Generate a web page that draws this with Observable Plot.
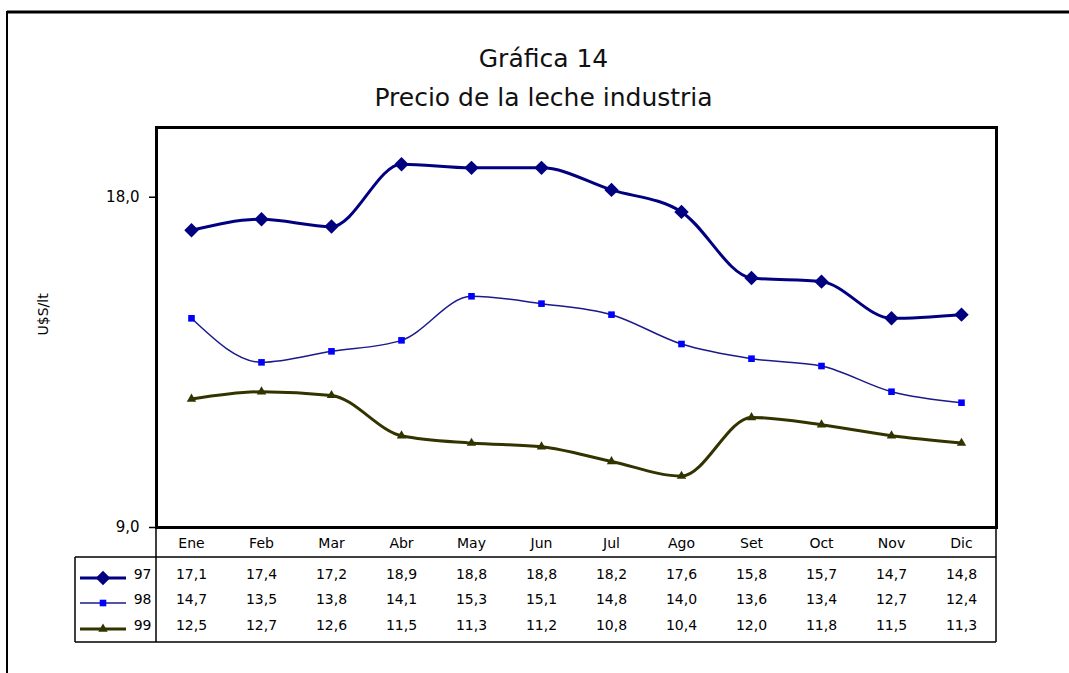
<!DOCTYPE html>
<html>
<head>
<meta charset="utf-8">
<script src="https://cdn.jsdelivr.net/npm/d3@7"></script>
<script src="https://cdn.jsdelivr.net/npm/@observablehq/plot@0.6"></script>
<style>
  html, body { margin: 0; padding: 0; background: #fff; }
  #chart { position: relative; width: 1069px; height: 673px; overflow: hidden; }
</style>
</head>
<body>
<div id="chart"></div>
<script>
// ---- data ----
const months = ["Ene","Feb","Mar","Abr","May","Jun","Jul","Ago","Set","Oct","Nov","Dic"];
const seriesNames = ["97","98","99"];
const s97 = [17.1,17.4,17.2,18.9,18.8,18.8,18.2,17.6,15.8,15.7,14.7,14.8];
const s98 = [14.7,13.5,13.8,14.1,15.3,15.1,14.8,14.0,13.6,13.4,12.7,12.4];
const s99 = [12.5,12.7,12.6,11.5,11.3,11.2,10.8,10.4,12.0,11.8,11.5,11.3];
const yTicks = [9, 18];
const titleText = "Gráfica 14";
const subtitleText = "Precio de la leche industria";
const yLabel = "U$S/lt";

const seriesValues = [s97, s98, s99];
const rows = seriesNames.flatMap((s, i) => months.map((m, j) => ({series: s, month: m, value: seriesValues[i][j]})));
const bySeries = s => rows.filter(d => d.series === s);

const styles = {
  "97": {line: "#000080", width: 3, fill: "#000080", symbol: "diamond2", r: 6.5},
  "98": {line: "#1a1a8c", width: 1.5, fill: "#0000ff", symbol: "square2", r: 4.2},
  "99": {line: "#333300", width: 3, fill: "#333300", symbol: "triangle2", r: 4.5}
};
const fmt = v => v.toFixed(1).replace(".", ",");
const FONT = "DejaVu Sans";

const rowDy = {"97": 51, "98": 76, "99": 102};

const marks = [];
// lines
for (const s of seriesNames) {
  marks.push(Plot.line(bySeries(s), {x: "month", y: "value", stroke: styles[s].line, strokeWidth: styles[s].width, curve: "monotone-x"}));
}
for (const s of seriesNames) {
  marks.push(Plot.dot(bySeries(s), {x: "month", y: "value", symbol: () => styles[s].symbol, fill: styles[s].fill, stroke: "none", r: styles[s].r}));
}
// frame
marks.push(Plot.frame({stroke: "#000", strokeWidth: 3}));
// y axis
marks.push(Plot.axisY(yTicks, {tickFormat: fmt, tickSize: 7, tickPadding: 10, fontSize: 15, label: null, strokeWidth: 1.5}));
// x axis (category row of the data table)
marks.push(Plot.axisX({anchor: "bottom", tickSize: 0, tickPadding: 11, fontSize: 14, label: null}));
// y label
marks.push(Plot.text([yLabel], {text: d => d, frameAnchor: "left", dx: -113, dy: 8, rotate: -90, fontSize: 14}));
// titles
marks.push(Plot.text([titleText], {text: d => d, frameAnchor: "top", dx: -33, dy: -78, fontSize: 25, fill: "#111"}));
marks.push(Plot.text([subtitleText], {text: d => d, frameAnchor: "top", dx: -33, dy: -39, fontSize: 25, fill: "#111"}));
// table values
for (const s of seriesNames) {
  marks.push(Plot.text(bySeries(s), {x: "month", text: d => fmt(d.value), frameAnchor: "bottom", dy: rowDy[s], fontSize: 14}));
  marks.push(Plot.text([s], {text: d => d, frameAnchor: "bottom-left", dx: -5, dy: rowDy[s], textAnchor: "end", fontSize: 14}));
}

const chart = Plot.plot({
  width: 1069,
  height: 673,
  marginLeft: 156,
  marginRight: 73,
  marginTop: 127,
  marginBottom: 146,
  x: {type: "band", domain: months, padding: 0, round: false},
  y: {domain: [9, 19.9]},
  style: {fontFamily: FONT, fontSize: "14px", background: "#fff", color: "#000", overflow: "visible"},
  marks
});

document.getElementById("chart").appendChild(chart);

// table grid, outer border and legend swatches drawn on the same svg
const svg = d3.select(chart);
const g = svg.append("g").attr("fill", "none").attr("stroke", "#000");
const L = 156, R = 996, B = 527;
const rowTop = B + 30, tBottom = B + 115, legL = 75;
g.append("line").attr("x1", legL).attr("x2", R).attr("y1", rowTop).attr("y2", rowTop).attr("stroke-width", 1.5);
g.append("line").attr("x1", legL).attr("x2", R).attr("y1", tBottom).attr("y2", tBottom).attr("stroke-width", 1.5);
g.append("line").attr("x1", legL).attr("x2", legL).attr("y1", rowTop).attr("y2", tBottom).attr("stroke-width", 1.5);
g.append("line").attr("x1", L).attr("x2", L).attr("y1", B).attr("y2", tBottom).attr("stroke-width", 1.5);
g.append("line").attr("x1", R).attr("x2", R).attr("y1", B).attr("y2", tBottom).attr("stroke-width", 1.5);
// outer figure border (top and left)
g.append("line").attr("x1", 7).attr("x2", 1069).attr("y1", 12).attr("y2", 12).attr("stroke-width", 3);
g.append("line").attr("x1", 7).attr("x2", 7).attr("y1", 11).attr("y2", 673).attr("stroke-width", 2);

const symMap = {diamond2: d3.symbolDiamond2, square2: d3.symbolSquare2, triangle2: d3.symbolTriangle2};
for (const s of seriesNames) {
  const y = B + rowDy[s];
  const st = styles[s];
  svg.append("line").attr("x1", 80).attr("x2", 126).attr("y1", y).attr("y2", y)
    .attr("stroke", st.line).attr("stroke-width", st.width);
  svg.append("path").attr("d", d3.symbol(symMap[st.symbol], st.r * st.r * Math.PI)())
    .attr("transform", `translate(103,${y})`).attr("fill", st.fill);
}
</script>
</body>
</html>
